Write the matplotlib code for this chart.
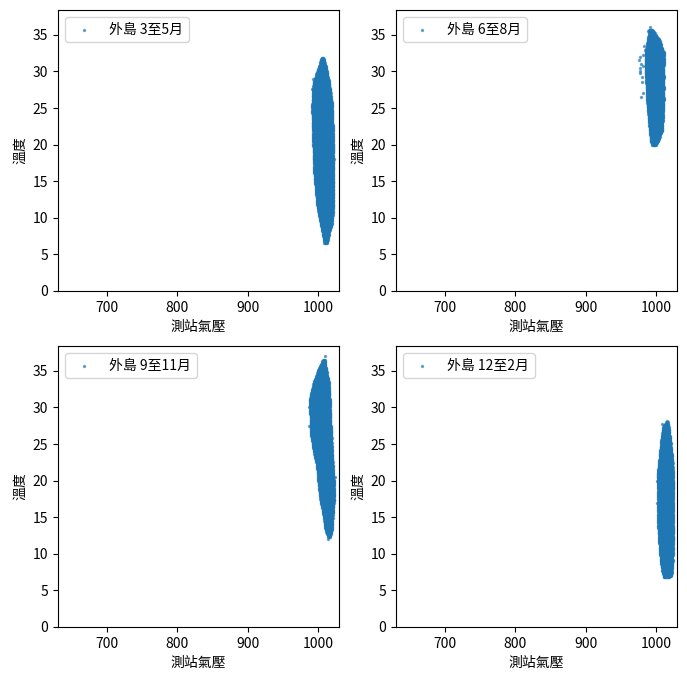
import numpy as np
import matplotlib
matplotlib.use("Agg")
import matplotlib.pyplot as plt

plt.rcParams['font.family'] = ['Noto Sans CJK TC', 'DejaVu Sans']

labels = ["外島 3至5月", "外島 6至8月", "外島 9至11月", "外島 12至2月"]

# cluster envelopes: temperature level, left / right pressure
spring_T = [6.5, 7.9, 9.3, 11.5, 16.1, 20.7, 25.2, 28.5, 29.9, 32.0]
spring_L = [1010, 1007, 1004, 999.5, 995, 993.4, 992, 994, 999, 1006]
spring_R = [1013, 1016, 1020, 1022, 1022, 1022, 1020.6, 1016, 1013, 1008]
spring_ox = [1008, 1010, 1009, 994, 991, 993, 1005, 1019, 1023]
spring_oy = [6.6, 7.4, 8.3, 28.0, 27.6, 29.0, 31.5, 12.5, 18.0]

summer_T = [19.9, 20.4, 22.0, 25.7, 30.3, 32.6, 34.5, 35.8]
summer_L = [995, 993, 991.4, 988, 985.5, 985.5, 989, 991]
summer_R = [999, 1003, 1009, 1011, 1011, 1011.4, 1004, 994]
summer_ox = [976, 977, 978, 979, 980, 981, 979, 977, 982, 983, 989, 992, 995, 1000, 1003,
             978, 980, 982, 984]
summer_oy = [31.5, 30.5, 29.8, 31.0, 28.5, 27.0, 26.5, 30.0, 32.3, 33.5, 35.5, 36.1, 35.0, 20.0, 20.6,
             32.0, 29.3, 30.8, 33.0]

autumn_T = [12.3, 13.3, 15.1, 17.4, 19.7, 21.9, 24.2, 26.6, 28.8, 31.1, 33.4, 35.2, 36.6]
autumn_L = [1015, 1011, 1008.5, 1003.8, 1001, 999, 994, 990, 989.5, 988.6, 994.3, 1001, 1008]
autumn_R = [1017, 1020, 1021, 1023, 1023, 1021.4, 1020, 1019, 1018, 1017, 1015.7, 1012, 1010]
autumn_ox = [1010, 1015, 1016, 987, 988, 1023, 1024]
autumn_oy = [37.0, 12.0, 12.8, 30.0, 27.5, 18.0, 20.5]

winter_T = [6.8, 7.0, 7.8, 9.1, 11.5, 13.7, 16.0, 18.3, 20.6, 22.9, 26.1, 27.5, 28.0]
winter_L = [1011, 1011.5, 1009, 1007, 1005, 1003.5, 1003.5, 1003.5, 1002.5, 1005, 1008.5, 1011, 1015]
winter_R = [1019, 1022, 1023, 1024, 1024.5, 1025, 1025, 1025, 1024.5, 1023.5, 1020, 1018, 1017]
winter_ox = [1008, 1016, 1001, 1001]
winter_oy = [27.7, 28.1, 20.0, 17.0]

panels = [
    (spring_T, spring_L, spring_R, spring_ox, spring_oy),
    (summer_T, summer_L, summer_R, summer_ox, summer_oy),
    (autumn_T, autumn_L, autumn_R, autumn_ox, autumn_oy),
    (winter_T, winter_L, winter_R, winter_ox, winter_oy),
]


def fill_points(Ts, Ls, Rs, ox, oy):
    xs, ys = [], []
    for t in np.arange(Ts[0], Ts[-1], 0.15):
        l = np.interp(t, Ts, Ls)
        r = np.interp(t, Ts, Rs)
        for p in np.arange(l, r + 0.01, 0.8):
            xs.append(p)
            ys.append(t)
    xs.extend(ox)
    ys.extend(oy)
    return np.array(xs), np.array(ys)


fig = plt.figure(figsize=(6.87, 6.83), dpi=100)
W, H = 687, 683
boxes = [(58, 10), (396, 10), (58, 346), (396, 346)]
aw, ah = 281, 281
for (bx, by), lab, pan in zip(boxes, labels, panels):
    ax = fig.add_axes([bx / W, 1 - (by + ah) / H, aw / W, ah / H])
    x, y = fill_points(*pan)
    ax.scatter(x, y, s=2, alpha=0.6, color='#1f77b4', label=lab)
    ax.set_xlim(630, 1030)
    ax.set_ylim(0, 38.4)
    ax.set_xticks([700, 800, 900, 1000])
    ax.set_yticks([0, 5, 10, 15, 20, 25, 30, 35])
    ax.set_xlabel("測站氣壓")
    ax.set_ylabel("溫度")
    ax.legend(loc='upper left')

fig.savefig("out.png", dpi=100)
